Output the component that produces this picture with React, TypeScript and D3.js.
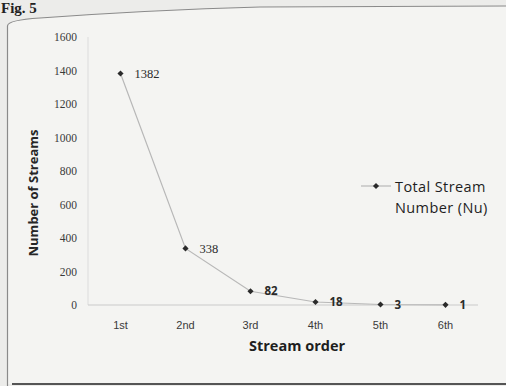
import React from "react";
import * as d3 from "d3";

const categories = ["1st", "2nd", "3rd", "4th", "5th", "6th"];
const streamNumbers = [1382, 338, 82, 18, 3, 1];
const yTicks = [0, 200, 400, 600, 800, 1000, 1200, 1400, 1600];
const seriesName = ["Total Stream", "Number (Nu)"];

export default function App() {
  const W = 506, H = 386;
  const x = d3.scaleBand<string>().domain(categories).range([88, 478]);
  const y = d3.scaleLinear().domain([0, 1600]).range([305, 37]);
  const cx = (c: string) => (x(c) as number) + x.bandwidth() / 2;
  const line = d3
    .line<number>()
    .x((_, i) => cx(categories[i]))
    .y((d) => y(d));
  const diamond = d3.symbol().type(d3.symbolDiamond2).size(24)();
  const tickColor = "#3a3a3a";

  return (
    <svg
      width={W}
      height={H}
      style={{ position: "absolute", left: 0, top: 0 }}
      viewBox={`0 0 ${W} ${H}`}
    >
      <rect x={0} y={0} width={W} height={H} fill="#ececea" />
      <path
        d={`M7,${H} L7,26 Q7,20 40,18 Q150,10 260,7 L${W},6 L${W},384 L7,384 Z`}
        fill="#f4f4f2"
      />
      <path
        d={`M7.5,${H} L7.5,26 Q7.5,20 40,18 Q150,10 260,7 L${W},6`}
        fill="none"
        stroke="#8a8a8a"
        strokeWidth={1.2}
      />
      <line x1={12} x2={W} y1={384} y2={384} stroke="#555" strokeWidth={2} />
      <text
        x={1}
        y={13}
        fontFamily="Liberation Serif"
        fontWeight="bold"
        fontSize={15}
        fill="#222"
      >
        Fig. 5
      </text>

      {/* axes */}
      <line x1={88} x2={88} y1={37} y2={305} stroke="#dcdcdc" strokeWidth={1} />
      <line x1={88} x2={478} y1={305} y2={305} stroke="#cacaca" strokeWidth={1} />

      {yTicks.map((t) => (
        <text
          key={t}
          x={77}
          y={y(t)}
          dy="0.35em"
          textAnchor="end"
          fontFamily="Liberation Serif"
          fontSize={11.5}
          fill={tickColor}
        >
          {t}
        </text>
      ))}
      {categories.map((c) => (
        <text
          key={c}
          x={cx(c)}
          y={325}
          dy="0.35em"
          textAnchor="middle"
          fontFamily="Liberation Sans"
          fontSize={11}
          fill={tickColor}
        >
          {c}
        </text>
      ))}

      <text
        transform={`translate(38,193) rotate(-90)`}
        textAnchor="middle"
        fontFamily="Open Sans"
        fontWeight="bold"
        fontSize={13}
        fill="#262626"
      >
        Number of Streams
      </text>
      <text
        x={297}
        y={346}
        dy="0.35em"
        textAnchor="middle"
        fontFamily="Open Sans"
        fontWeight="bold"
        fontSize={14.5}
        fill="#1e1e1e"
      >
        Stream order
      </text>

      <path d={line(streamNumbers) || ""} fill="none" stroke="#b8b8b8" strokeWidth={1.2} />
      {streamNumbers.map((v, i) => (
        <g key={i}>
          <path
            d={diamond || ""}
            transform={`translate(${cx(categories[i])},${y(v)})`}
            fill="#2a2a2a"
          />
          <text
            x={cx(categories[i]) + 14}
            y={y(v)}
            dy="0.35em"
            fontFamily={i < 2 ? "Liberation Serif" : "Open Sans"}
            fontWeight={i < 2 ? "normal" : "bold"}
            fontSize={i < 2 ? 12.5 : 11.5}
            fill="#2a2a2a"
          >
            {v}
          </text>
        </g>
      ))}

      {/* legend */}
      <line x1={361} x2={391} y1={186} y2={186} stroke="#b8b8b8" strokeWidth={1.2} />
      <path d={diamond || ""} transform="translate(376,186)" fill="#2a2a2a" />
      {seriesName.map((s, i) => (
        <text
          key={s}
          x={395}
          y={187 + i * 21}
          dy="0.35em"
          fontFamily="Open Sans"
          fontSize={14.5}
          letterSpacing={0.4}
          fill="#1e1e1e"
        >
          {s}
        </text>
      ))}
    </svg>
  );
}
